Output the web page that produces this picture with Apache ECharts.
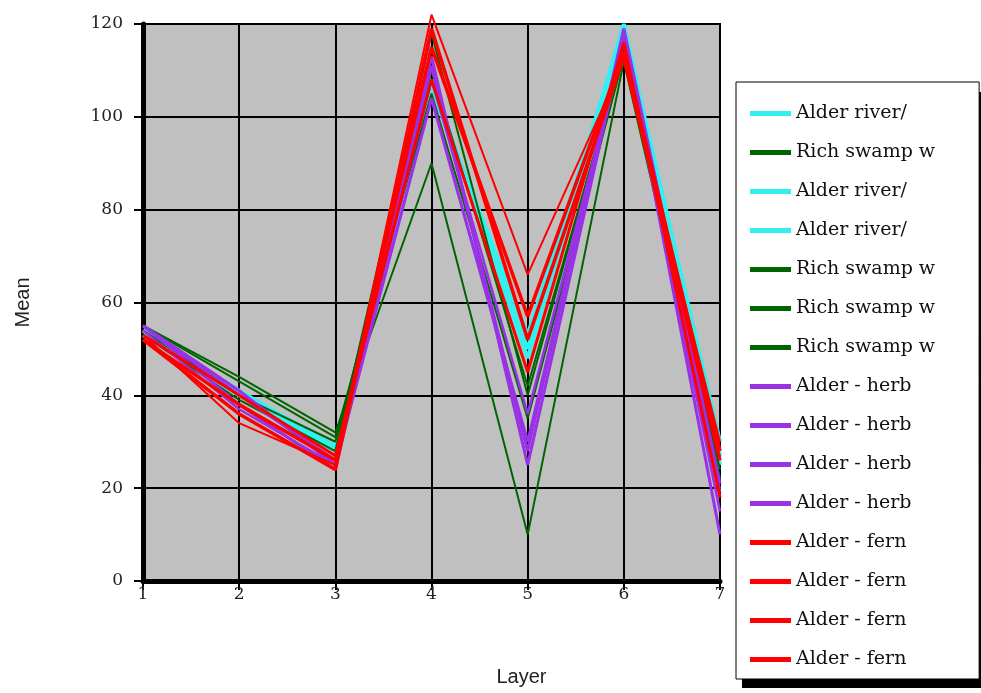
<!DOCTYPE html>
<html><head><meta charset="utf-8">
<script src="https://cdn.jsdelivr.net/npm/echarts@6/dist/echarts.min.js"></script>
<style>html,body{margin:0;padding:0;background:#fff}#c{width:981px;height:693px}</style>
</head><body><div id="c"></div>
<script>
const layers = [1, 2, 3, 4, 5, 6, 7];
const yTicks = [0, 20, 40, 60, 80, 100, 120];
const seriesLabels = ["Alder river/", "Rich swamp w", "Alder river/", "Alder river/", "Rich swamp w", "Rich swamp w", "Rich swamp w", "Alder - herb", "Alder - herb", "Alder - herb", "Alder - herb", "Alder - fern", "Alder - fern", "Alder - fern", "Alder - fern"];
const s1 = [54, 40, 29, 107, 50, 120, 25];
const s2 = [55, 44, 32, 90, 10, 112, 22];
const s3 = [54, 41, 29, 106, 53, 119, 30];
const s4 = [53, 40, 28, 108, 48, 118, 27];
const s5 = [55, 43, 31, 105, 35, 113, 24];
const s6 = [54, 40, 30, 110, 42, 114, 20];
const s7 = [53, 39, 28, 118, 40, 115, 22];
const s8 = [55, 41, 25, 104, 30, 118, 10];
const s9 = [55, 38, 24, 113, 25, 117, 19];
const s10 = [54, 37, 25, 108, 36, 116, 15];
const s11 = [55, 40, 26, 111, 28, 119, 21];
const s12 = [53, 34, 25, 122, 66, 112, 30];
const s13 = [52, 38, 26, 115, 57, 114, 28];
const s14 = [53, 40, 27, 108, 45, 116, 18];
const s15 = [52, 36, 24, 119, 52, 113, 26];
const allValues = [s1,s2,s3,s4,s5,s6,s7,s8,s9,s10,s11,s12,s13,s14,s15];

const CY = '#33f0f0', GR = '#006400', PU = '#9932e6', RD = '#ff0000';
const colors = [CY, GR, CY, CY, GR, GR, GR, PU, PU, PU, PU, RD, RD, RD, RD];
const widths = [4, 2, 4, 4, 2, 2, 2, 3, 3, 2.5, 3, 2, 3.5, 3, 3.5];

const keys = seriesLabels.map((_, i) => 'k' + i);
const series = allValues.map((vals, i) => ({
  name: keys[i],
  type: 'line',
  symbol: 'none',
  clip: false,
  data: vals.map((v, j) => [layers[j], v]),
  lineStyle: { color: colors[i], width: widths[i] },
  itemStyle: { color: colors[i] }
}));

const chart = echarts.init(document.getElementById('c'));
chart.setOption({
  animation: false,
  backgroundColor: '#fff',
  grid: { left: 143, right: 261, top: 24, bottom: 112, show: true, backgroundColor: '#c0c0c0', borderColor: '#000', borderWidth: 2 },
  graphic: [{
    type: 'rect', z: 1, silent: true,
    shape: { x: 742, y: 92, width: 242, height: 596 },
    style: { fill: '#000' }
  }],
  xAxis: {
    type: 'value', min: 1, max: 7, interval: 1,
    name: 'Layer', nameLocation: 'middle', nameGap: 86,
    nameTextStyle: { fontFamily: 'Liberation Sans', fontSize: 20, color: '#222', padding: [0, 0, 0, 180] },
    axisLine: { show: true, onZero: false, lineStyle: { color: '#000', width: 5 } },
    axisTick: { show: true, length: 9, lineStyle: { color: '#000', width: 2 } },
    axisLabel: { margin: 5, fontFamily: 'DejaVu Serif', fontSize: 17, color: '#222' },
    splitLine: { show: true, lineStyle: { color: '#000', width: 2 } }
  },
  yAxis: {
    type: 'value', min: yTicks[0], max: yTicks[yTicks.length - 1], interval: 20,
    name: 'Mean', nameLocation: 'middle', nameGap: 110,
    nameTextStyle: { fontFamily: 'Liberation Sans', fontSize: 20, color: '#222' },
    axisLine: { show: true, onZero: false, lineStyle: { color: '#000', width: 5 } },
    axisTick: { show: true, length: 9, lineStyle: { color: '#000', width: 2 } },
    axisLabel: { margin: 20, fontFamily: 'DejaVu Serif', fontSize: 17, color: '#222' },
    splitLine: { show: true, lineStyle: { color: '#000', width: 2 } }
  },
  legend: {
    orient: 'vertical', left: 736, top: 82, z: 5,
    data: keys,
    formatter: n => seriesLabels[keys.indexOf(n)],
    icon: 'rect', itemWidth: 41, itemHeight: 5, itemGap: 20,
    padding: [22, 44, 10, 14],
    backgroundColor: '#fff', borderColor: '#000', borderWidth: 1,
    textStyle: { fontFamily: 'DejaVu Serif', fontSize: 19, color: '#111' },
    selectedMode: false
  },
  series: series
});
</script></body></html>
